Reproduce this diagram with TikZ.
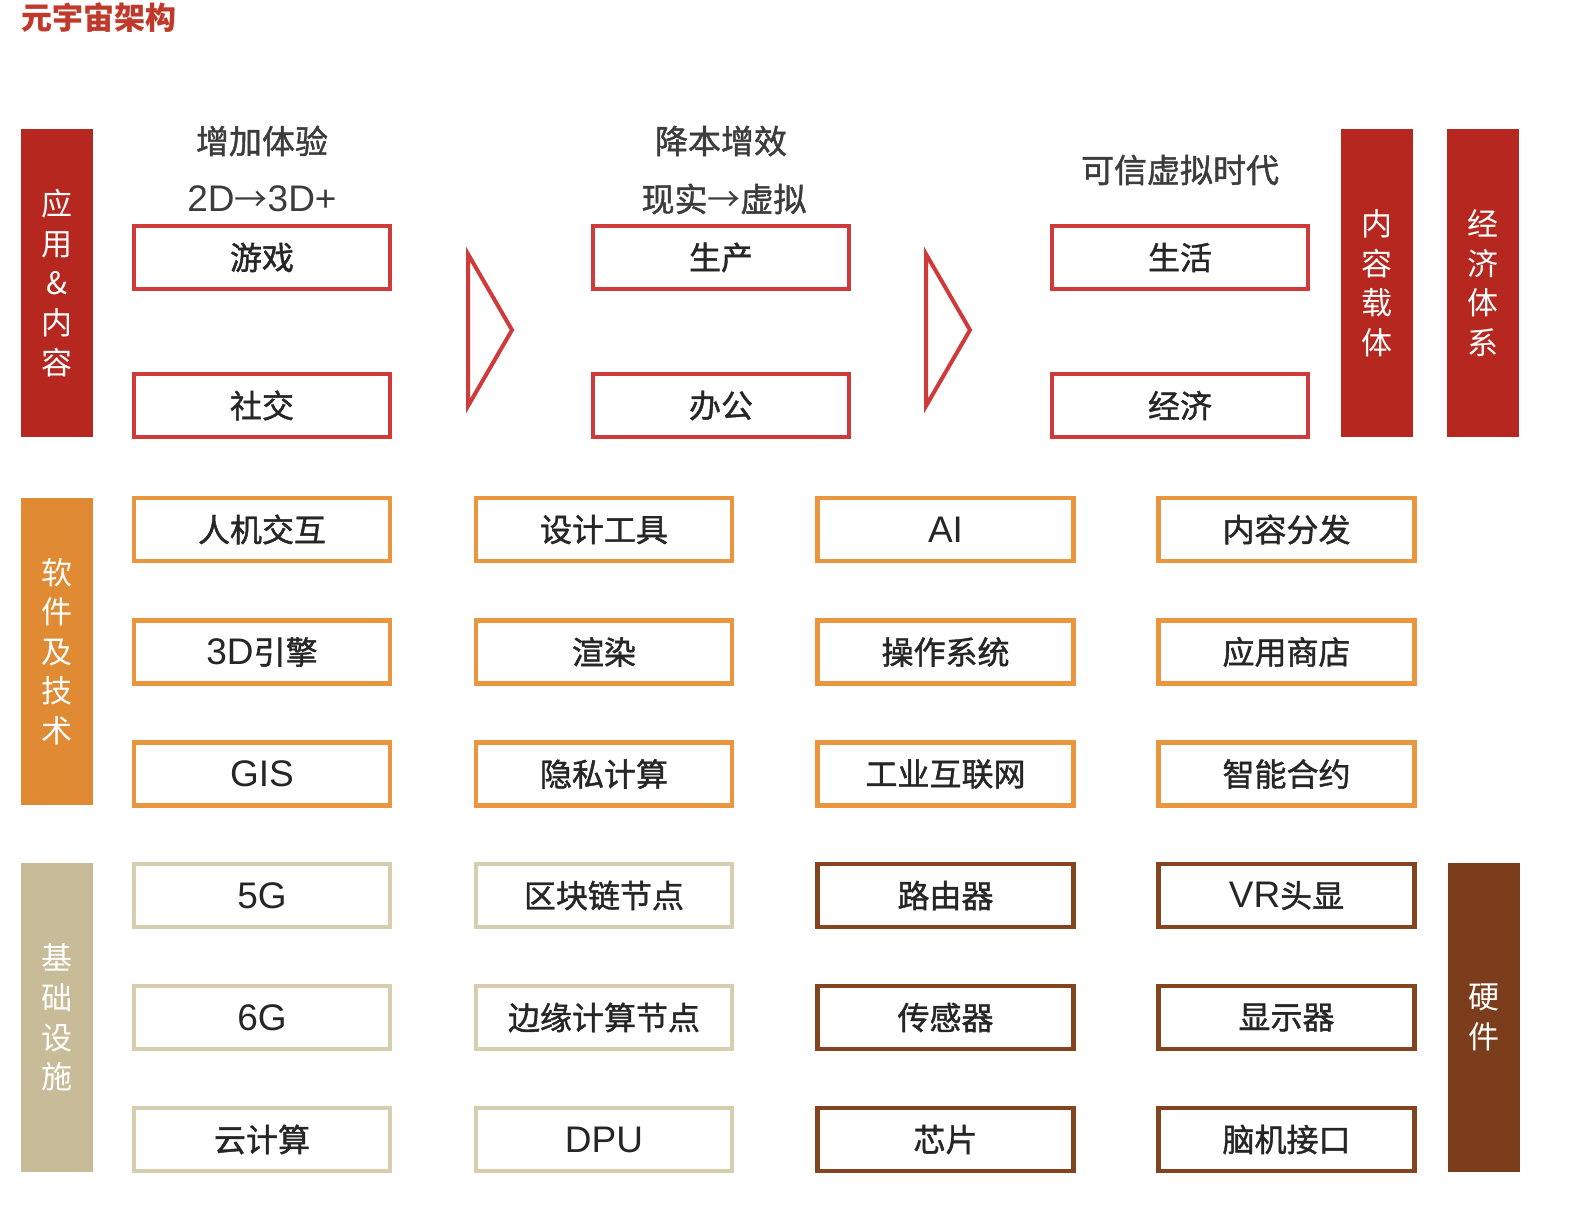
\documentclass[tikz,border=0pt]{standalone}
\usepackage{fontspec}
\setmainfont{Noto Sans CJK SC}
\newfontfamily\cjkbox[FakeBold=1.3]{Noto Sans CJK SC}
\newfontfamily\cjkplain{Noto Sans CJK SC}
\newfontfamily\latfont{Liberation Sans}
\newcommand{\La}[1]{{\latfont\fontsize{18.5}{20}\selectfont #1}}
\newcommand{\Arr}{{\cjkplain →}}
\definecolor{barred}{HTML}{B5271F}
\definecolor{boxred}{HTML}{CF3A3A}
\definecolor{barorange}{HTML}{E08A34}
\definecolor{boxorange}{HTML}{E9963F}
\definecolor{bartan}{HTML}{C8BC98}
\definecolor{boxtan}{HTML}{D6CEAF}
\definecolor{barbrown}{HTML}{7B3D1B}
\definecolor{boxbrown}{HTML}{84441F}
\definecolor{txt}{HTML}{262626}
\definecolor{titlered}{HTML}{C0392B}
\tikzset{
  cell/.style={rectangle, line width=2.2pt, fill=white, minimum width=128pt, minimum height=31.5pt, inner sep=0pt, font=\cjkbox\fontsize{16}{18}\selectfont, text=txt},
  redcell/.style={cell, draw=boxred},
  orangecell/.style={cell, draw=boxorange},
  tancell/.style={cell, draw=boxtan},
  browncell/.style={cell, draw=boxbrown},
  bar/.style={rectangle, minimum width=36pt, inner sep=0pt, text=white, align=center, font=\fontsize{15.5}{19.8}\selectfont},
  head/.style={font=\cjkbox\fontsize{16.5}{19}\selectfont, text=txt!90!white, inner sep=0pt},
  chevron/.style={draw=boxred, line width=2pt, line join=miter}
}
\begin{document}
\begin{tikzpicture}[x=0.5pt,y=-0.5pt]
\useasboundingbox (0,0) rectangle (1582,1204);
% title
\node[anchor=west, inner sep=0pt, text=titlered, font=\fontsize{15.5}{18}\selectfont\bfseries] (title) at (21,18) {元宇宙架构};
% left bars
\node[bar, fill=barred, minimum height=154pt] (app) at (57,283) {应\\用\\\&\\内\\容};
\node[bar, fill=barorange, minimum height=153.5pt] (soft) at (57,651.5) {软\\件\\及\\技\\术};
\node[bar, fill=bartan, minimum height=154.5pt] (infra) at (57,1017.5) {基\\础\\设\\施};
% right bars
\node[bar, fill=barred, minimum height=154pt] (carrier) at (1377,283) {内\\容\\载\\体};
\node[bar, fill=barred, minimum height=154pt] (econ) at (1483,283) {经\\济\\体\\系};
\node[bar, fill=barbrown, minimum height=154.5pt] (hw) at (1484,1017.5) {硬\\件};
% headers
\node[head] (h1) at (262,141) {增加体验};
\node[head] (h1b) at (262,199) {\La{2D}\Arr\La{3D+}};
\node[head] (h2) at (721,141) {降本增效};
\node[head] (h2b) at (724,199) {现实\Arr 虚拟};
\node[head] (h3) at (1180,170) {可信虚拟时代};
% top boxes
\node[redcell] (game) at (262,257.5) {游戏};
\node[redcell] (social) at (262,405.5) {社交};
\node[redcell] (prod) at (721,257.5) {生产};
\node[redcell] (office) at (721,405.5) {办公};
\node[redcell] (life) at (1180,257.5) {生活};
\node[redcell] (economy) at (1180,405.5) {经济};
% chevrons
\coordinate (a1t) at (468,254); \coordinate (a1p) at (512,330); \coordinate (a1b) at (468,406);
\coordinate (a2t) at (926,254); \coordinate (a2p) at (970,330); \coordinate (a2b) at (926,406);
\draw[chevron] (a1t) -- (a1p) -- (a1b) -- cycle;
\draw[chevron] (a2t) -- (a2p) -- (a2b) -- cycle;
% software row
\node[orangecell] (hci) at (262,529.5) {人机交互};
\node[orangecell] (eng) at (262,652) {\La{3D}引擎};
\node[orangecell] (gis) at (262,774) {\La{GIS}};
\node[orangecell] (design) at (604,529.5) {设计工具};
\node[orangecell] (render) at (604,652) {渲染};
\node[orangecell] (priv) at (604,774) {隐私计算};
\node[orangecell] (ai) at (945.5,529.5) {\La{AI}};
\node[orangecell] (os) at (945.5,652) {操作系统};
\node[orangecell] (iiot) at (945.5,774) {工业互联网};
\node[orangecell] (dist) at (1286.5,529.5) {内容分发};
\node[orangecell] (store) at (1286.5,652) {应用商店};
\node[orangecell] (smart) at (1286.5,774) {智能合约};
% infrastructure
\node[tancell] (g5) at (262,895.5) {\La{5G}};
\node[tancell] (g6) at (262,1017.5) {\La{6G}};
\node[tancell] (cloud) at (262,1139.5) {云计算};
\node[tancell] (chain) at (604,895.5) {区块链节点};
\node[tancell] (edge) at (604,1017.5) {边缘计算节点};
\node[tancell] (dpu) at (604,1139.5) {\La{DPU}};
% hardware
\node[browncell] (router) at (945.5,895.5) {路由器};
\node[browncell] (sensor) at (945.5,1017.5) {传感器};
\node[browncell] (chip) at (945.5,1139.5) {芯片};
\node[browncell] (vr) at (1286.5,895.5) {\La{VR}头显};
\node[browncell] (disp) at (1286.5,1017.5) {显示器};
\node[browncell] (bci) at (1286.5,1139.5) {脑机接口};
\end{tikzpicture}
\end{document}
